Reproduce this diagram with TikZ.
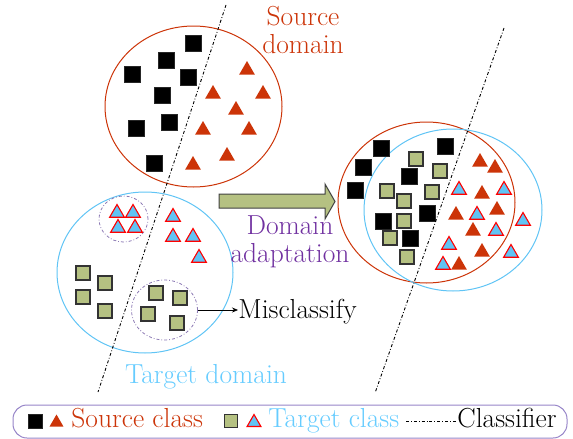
\documentclass[tikz,border=0pt]{standalone}
\usetikzlibrary{shapes.geometric,arrows.meta}
\definecolor{srcred}{RGB}{204,52,8}
\definecolor{tgtblue}{RGB}{96,196,245}
\definecolor{tgttext}{RGB}{102,204,255}
\definecolor{sqgreen}{RGB}{181,193,130}
\definecolor{daviolet}{RGB}{112,48,160}
\definecolor{grpurple}{RGB}{140,122,180}
\definecolor{legpurple}{RGB}{150,132,200}

\begin{document}
\begin{tikzpicture}[x=1pt, y=-1pt, thick,
  bsq/.style = {draw=black!85, fill=black, minimum size=16pt, inner sep=0pt},
  gsq/.style = {draw=black!80, fill=sqgreen, line width=1.2pt, minimum size=14pt, inner sep=0pt},
  rtri/.style = {regular polygon, regular polygon sides=3, fill=srcred, minimum size=18pt, inner sep=0pt},
  btri/.style = {regular polygon, regular polygon sides=3, draw=red, fill=tgtblue, line width=1.1pt, minimum size=17pt, inner sep=0pt},
  dom/.style = {ellipse, draw, line width=1pt, inner sep=0pt},
  grp/.style = {ellipse, draw=grpurple, dash dot, line width=0.8pt, inner sep=0pt},
  classifier/.style = {dash dot, line width=0.9pt},
  lbl/.style = {font=\fontsize{27.5}{28.5}\selectfont, inner sep=0pt}]
\useasboundingbox (0,0) rectangle (573,439);

% source domain
\node[dom, draw=srcred, minimum width=177pt, minimum height=161pt] (src) at (193.5,106.5) {};
\foreach \x/\y [count=\i] in {193/43, 166/60, 132/74, 188/77, 162/95, 169/122, 136/128, 154/163}
  \node[bsq] (s\i) at (\x,\y) {};
\foreach \x/\y [count=\i] in {247/70, 213/94, 263/94, 236/110, 203/130, 249/130, 227/156, 193/165}
  \node[rtri] (r\i) at (\x,\y) {};
\node[lbl, text=srcred, align=center] (srcname) at (303,30) {Source\\domain};

% target domain
\node[dom, draw=tgtblue, minimum width=176pt, minimum height=161pt] (tgt) at (145,272.5) {};
\node[grp, minimum width=49pt, minimum height=46pt] (grp) at (123.5,219) {};
\node[grp, minimum width=66pt, minimum height=60pt] (mis) at (164.5,310) {};
\foreach \x/\y [count=\i] in {117/213, 133/213, 118/228, 135/228, 173/217, 173/237, 193/237, 199/258}
  \node[btri] (b\i) at (\x,\y) {};
\foreach \x/\y [count=\i] in {83/273, 105/283, 83/297, 105/311, 156/293, 180/298, 148/314, 177/323}
  \node[gsq] (g\i) at (\x,\y) {};
\node[lbl, text=tgttext, anchor=base] (tgtname) at (206,383) {Target domain};
\node[lbl, anchor=base west] (miscl) at (238,318) {Misclassify};
\draw[-{Stealth[length=6pt,width=5pt]}, line width=0.7pt] (mis.east) -- (mis.east -| miscl.west);

\coordinate (c1a) at (226,5);
\coordinate (c1b) at (98,392);
\draw[classifier] (c1a) -- (c1b);

% domain adaptation
\draw[fill=sqgreen, draw=black!75, line width=1pt] (219,194) -- (325,194) -- (325,184) -- (335,201.5)
  -- (325,219) -- (325,208) -- (219,208) -- cycle;
\node[lbl, text=daviolet, align=center] (da) at (290,242) {Domain\\adaptation};

% adapted domains
\node[dom, draw=srcred, minimum width=177pt, minimum height=161pt] (src2) at (426.5,202.5) {};
\node[dom, draw=tgtblue, minimum width=178pt, minimum height=162pt] (tgt2) at (453,210) {};
\foreach \x/\y [count=\i] in {381/148, 363/167, 355/190, 445/146, 409/176, 427/213, 383/221, 410/238}
  \node[bsq] (ss\i) at (\x,\y) {};
\foreach \x/\y [count=\i] in {416/159, 440/171, 387/191, 432/192, 404/201, 404/221, 390/238, 407/257}
  \node[gsq] (gg\i) at (\x,\y) {};
\foreach \x/\y [count=\i] in {480/162, 495/168, 482/194, 456/215, 497/210, 473/231, 482/252, 459/265}
  \node[rtri] (rr\i) at (\x,\y) {};
\foreach \x/\y [count=\i] in {459/190, 504/190, 477/215, 523/221, 496/231, 449/245, 511/253, 443/265}
  \node[btri] (bb\i) at (\x,\y) {};
\coordinate (c2a) at (504,28);
\coordinate (c2b) at (375,393);
\draw[classifier] (c2a) -- (c2b);

% legend
\draw[legpurple, line width=1pt, rounded corners=14pt] (13,405) rectangle (567,438);
\node[bsq, minimum size=14pt] (l1) at (35,421) {};
\node[rtri, minimum size=16pt] (l2) at (56.5,422.5) {};
\node[lbl, text=srcred, anchor=base west] (l3) at (71,427) {Source class};
\node[gsq, minimum size=13pt] (l4) at (231,421) {};
\node[btri, minimum size=16pt] (l5) at (254,422.5) {};
\node[lbl, text=tgttext, anchor=base west] (l6) at (268,427) {Target class};
\node[lbl, anchor=base west] (l7) at (457,427) {Classifier};
\coordinate (l8) at (406,421);
\draw[classifier, line width=0.7pt] (l8) -- (l8 -| l7.west);
\end{tikzpicture}
\end{document}
